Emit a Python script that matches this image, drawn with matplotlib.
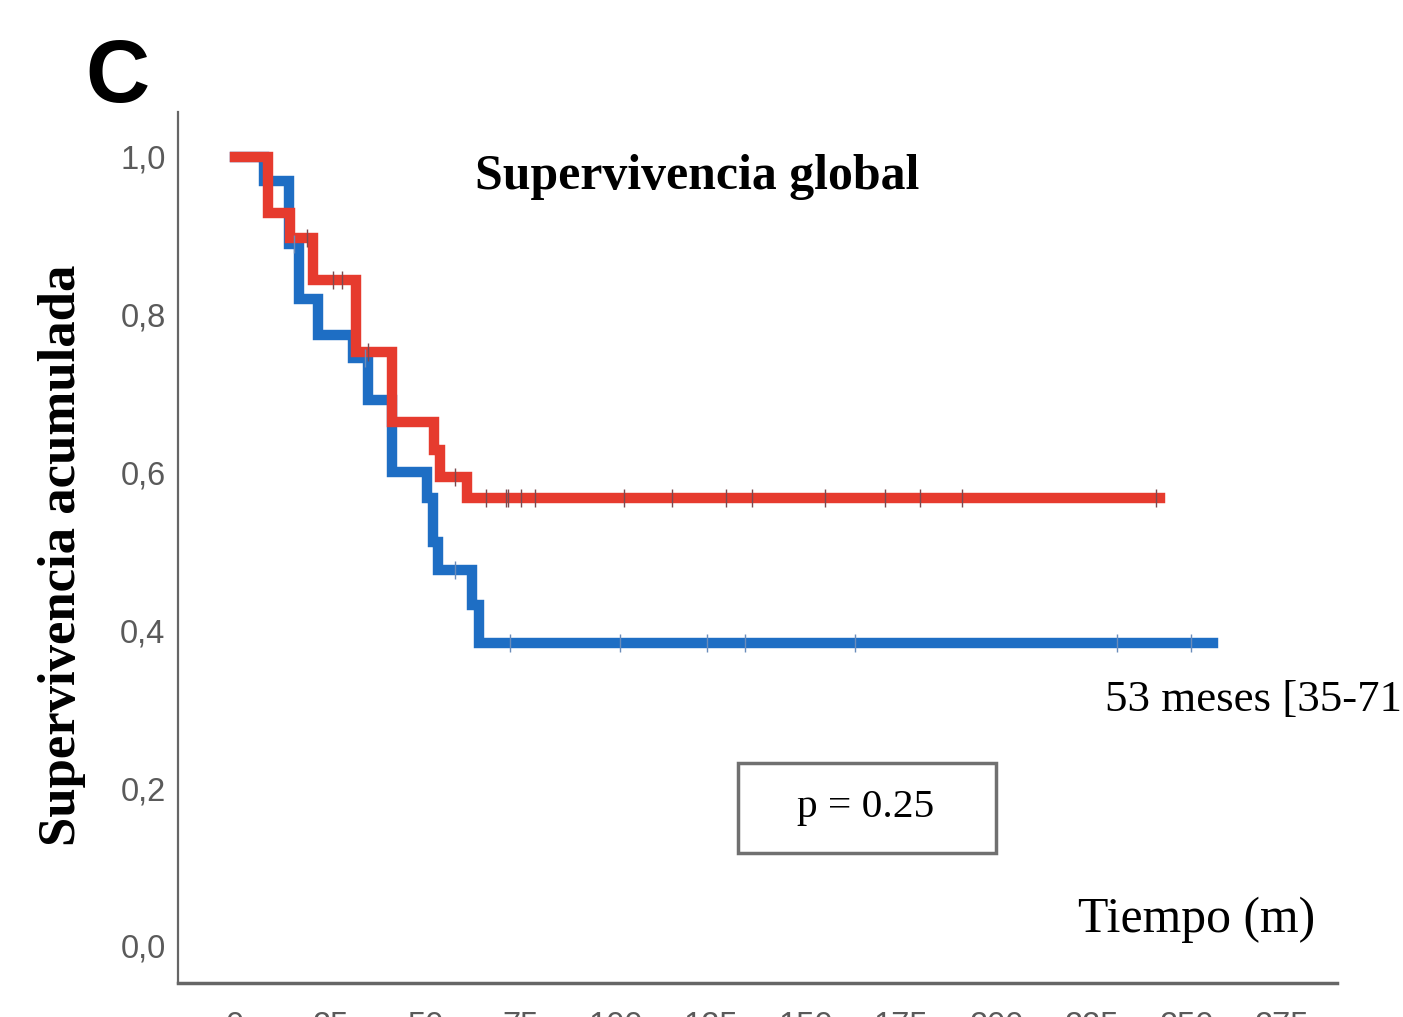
# Supervivencia global - Kaplan-Meier (panel C)
import numpy as np
import matplotlib
matplotlib.use('Agg')
import matplotlib.pyplot as plt
from matplotlib.patches import Rectangle

# red group: step times (months) and survival after each step
red_t = [0, 8.7, 14.4, 20.5, 31.8, 41.2, 52.3, 53.8, 60.9, 243]
red_s = [1.0, 0.929, 0.897, 0.844, 0.753, 0.664, 0.629, 0.594, 0.568, 0.568]
red_cens_t = [18.9, 25.7, 28.1, 35.0, 57.8, 65.9, 71.2, 71.7, 75.1, 78.8, 102.2,
              114.8, 129.0, 135.8, 155.0, 170.7, 179.9, 191.0, 241.9]

# blue group
blue_t = [0, 7.5, 14.2, 16.8, 21.8, 31.0, 35.0, 41.2, 50.4, 52.0, 53.3, 62.3, 64.1, 257]
blue_s = [1.0, 0.970, 0.890, 0.820, 0.774, 0.745, 0.692, 0.601, 0.568, 0.512, 0.477,
          0.432, 0.384, 0.384]
blue_cens_t = [15.5, 34.1, 57.8, 72.2, 101.1, 124.0, 134.0, 162.9, 231.7, 251.1]

x_ticks = [0, 25, 50, 75, 100, 125, 150, 175, 200, 225, 250, 275]
y_ticks = [0.0, 0.2, 0.4, 0.6, 0.8, 1.0]
y_tick_labels = ['0,0', '0,2', '0,4', '0,6', '0,8', '1,0']

red_c = '#E63B2E'
blue_c = '#1E6EC4'

W, H = 1403, 1017
fig = plt.figure(figsize=(W / 100, H / 100), dpi=100)
ax = fig.add_axes([178 / W, 1 - 983 / H, (1337 - 178) / W, (983 - 112) / H])


def surv_at(times, t_list, s_list):
    idx = np.searchsorted(t_list, times, side='right') - 1
    return np.array(s_list)[idx]


ax.step(blue_t, blue_s, where='post', color=blue_c, lw=7.5, solid_joinstyle='miter', zorder=2)
ax.step(red_t, red_s, where='post', color=red_c, lw=7.5, solid_joinstyle='miter', zorder=3)
ax.plot(blue_cens_t, surv_at(blue_cens_t, blue_t, blue_s), ls='none', marker='|',
        ms=13, mew=1.0, color='#6a8cba', zorder=4)
ax.plot(red_cens_t, surv_at(red_cens_t, red_t, red_s), ls='none', marker='|',
        ms=13, mew=1.0, color='#7a4a50', zorder=4)

ax.set_xlim(-15, 289.5)
ax.set_ylim(-0.047, 1.057)
ax.set_xticks(x_ticks)
ax.set_xticklabels([str(v) for v in x_ticks])
ax.set_yticks(y_ticks)
ax.set_yticklabels(y_tick_labels)
ax.tick_params(length=0, labelsize=23.5, labelcolor='#5a5a5a', pad=9)
ax.tick_params(axis='x', pad=20)
for lab in ax.get_xticklabels() + ax.get_yticklabels():
    lab.set_family('Liberation Sans')
ax.spines['top'].set_visible(False)
ax.spines['right'].set_visible(False)
ax.spines['left'].set_color('#666666')
ax.spines['left'].set_linewidth(1.6)
ax.spines['bottom'].set_color('#666666')
ax.spines['bottom'].set_linewidth(2.5)

serif = 'Liberation Serif'
fig.text(85 / W, 1 - 79 / H, 'C', fontsize=64, fontweight='bold', family='Liberation Sans',
         ha='left', va='center')
fig.text(697 / W, 1 - 177 / H, 'Supervivencia global', fontsize=35.8, fontweight='bold',
         family=serif, ha='center', va='center')
fig.text(62 / W, 1 - 555 / H, 'Supervivencia acumulada', fontsize=38, fontweight='bold',
         family=serif, rotation=90, ha='center', va='center')
fig.text(1105 / W, 1 - 700 / H, '53 meses [35-71', fontsize=32.3, family=serif,
         ha='left', va='center')
fig.text(1078 / W, 1 - 920 / H, 'Tiempo (m)', fontsize=35.8, family=serif,
         ha='left', va='center')

fig.patches.append(Rectangle((738 / W, 1 - 853 / H), (996 - 738) / W, (853 - 763) / H,
                             transform=fig.transFigure, fill=False, edgecolor='#707070',
                             linewidth=2.5))
fig.text(866 / W, 1 - 808 / H, 'p = 0.25', fontsize=29.8, family=serif,
         ha='center', va='center')

fig.savefig('out.png', dpi=100)
